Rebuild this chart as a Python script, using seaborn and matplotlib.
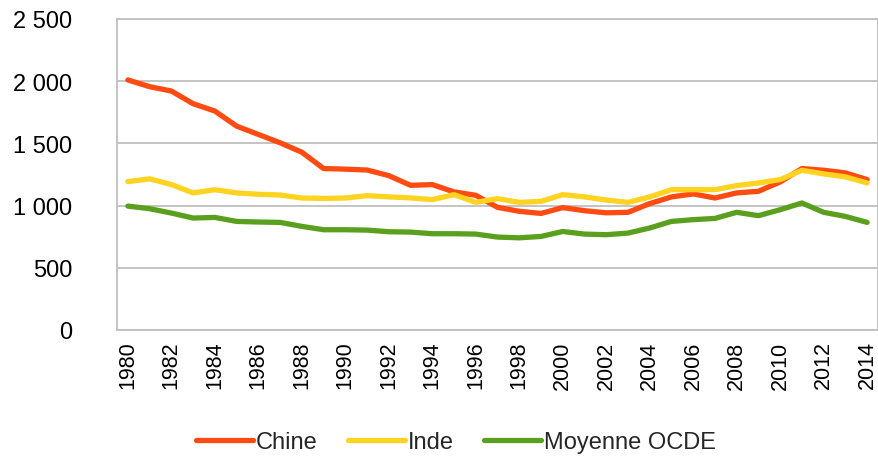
import numpy as np
import pandas as pd
import matplotlib
matplotlib.use("Agg")
import matplotlib.pyplot as plt
import seaborn as sns
from matplotlib.lines import Line2D

years = list(range(1980, 2015))
chine = [2010, 1956, 1921, 1819, 1760, 1639, 1572, 1505, 1429, 1298, 1293, 1286,
         1241, 1163, 1169, 1110, 1083, 986, 954, 937, 984, 959, 942, 946,
         1016, 1070, 1094, 1061, 1102, 1115, 1190, 1298, 1284, 1263, 1209]
inde = [1193, 1215, 1169, 1102, 1128, 1102, 1091, 1085, 1061, 1058, 1061, 1080,
        1070, 1062, 1048, 1088, 1026, 1056, 1026, 1034, 1088, 1070, 1045, 1026,
        1070, 1128, 1128, 1128, 1161, 1182, 1209, 1284, 1255, 1231, 1182]
ocde = [996, 975, 940, 900, 905, 873, 868, 865, 833, 806, 806, 803,
        790, 787, 774, 774, 771, 747, 741, 752, 792, 771, 766, 779,
        820, 873, 887, 897, 946, 919, 967, 1021, 946, 913, 865]
series_names = ["Chine", "Inde", "Moyenne OCDE"]
colors = ["#FF4A12", "#FFD31F", "#5AA01E"]
yticks = [0, 500, 1000, 1500, 2000, 2500]
ytick_labels = ["0", "500", "1 000", "1 500", "2 000", "2 500"]
xticks = list(range(1980, 2015, 2))

df = pd.DataFrame({
    "Année": years * 3,
    "Valeur": chine + inde + ocde,
    "Série": [series_names[0]] * len(years) + [series_names[1]] * len(years) + [series_names[2]] * len(years),
})

sns.set_theme(style="white")
plt.rcParams["font.family"] = ["Liberation Sans", "DejaVu Sans"]

W, H = 879, 460
fig = plt.figure(figsize=(W / 100, H / 100), dpi=100)
ax = fig.add_axes([117 / W, 1 - 331 / H, (878 - 117) / W, (331 - 20) / H])

sns.lineplot(data=df, x="Année", y="Valeur", hue="Série", palette=colors,
             hue_order=series_names, linewidth=3.8, ax=ax, legend=False)
for ln in ax.get_lines():
    ln.set_solid_capstyle("round")
    ln.set_solid_joinstyle("round")

ax.set_xlim(1979.5, 2014.5)
ax.set_ylim(0, 2500)
ax.set_yticks(yticks)
ax.set_yticklabels(ytick_labels)
ax.set_xticks(xticks)
ax.set_xticklabels([str(x) for x in xticks], rotation=90)
ax.set_xlabel("")
ax.set_ylabel("")
ax.grid(axis="y", color="#BFBFBF", linewidth=1.3)
ax.grid(axis="x", visible=False)
ax.set_axisbelow(True)
for s in ax.spines.values():
    s.set_visible(True)
    s.set_color("#BFBFBF")
    s.set_linewidth(1.3)
ax.tick_params(axis="y", length=0, pad=32, labelsize=17, labelcolor="black")
ax.tick_params(axis="x", length=0, pad=7.5, labelsize=15.5, labelcolor="black")

handles = [Line2D([0], [0], color=c, linewidth=3.8, solid_capstyle="round") for c in colors]
fig.legend(handles, series_names, loc="center", bbox_to_anchor=(456 / W, 1 - 443 / H),
           ncol=3, frameon=False, fontsize=17, handlelength=2.4, handletextpad=0.12,
           columnspacing=1.3)

fig.savefig("out.png", dpi=100)
